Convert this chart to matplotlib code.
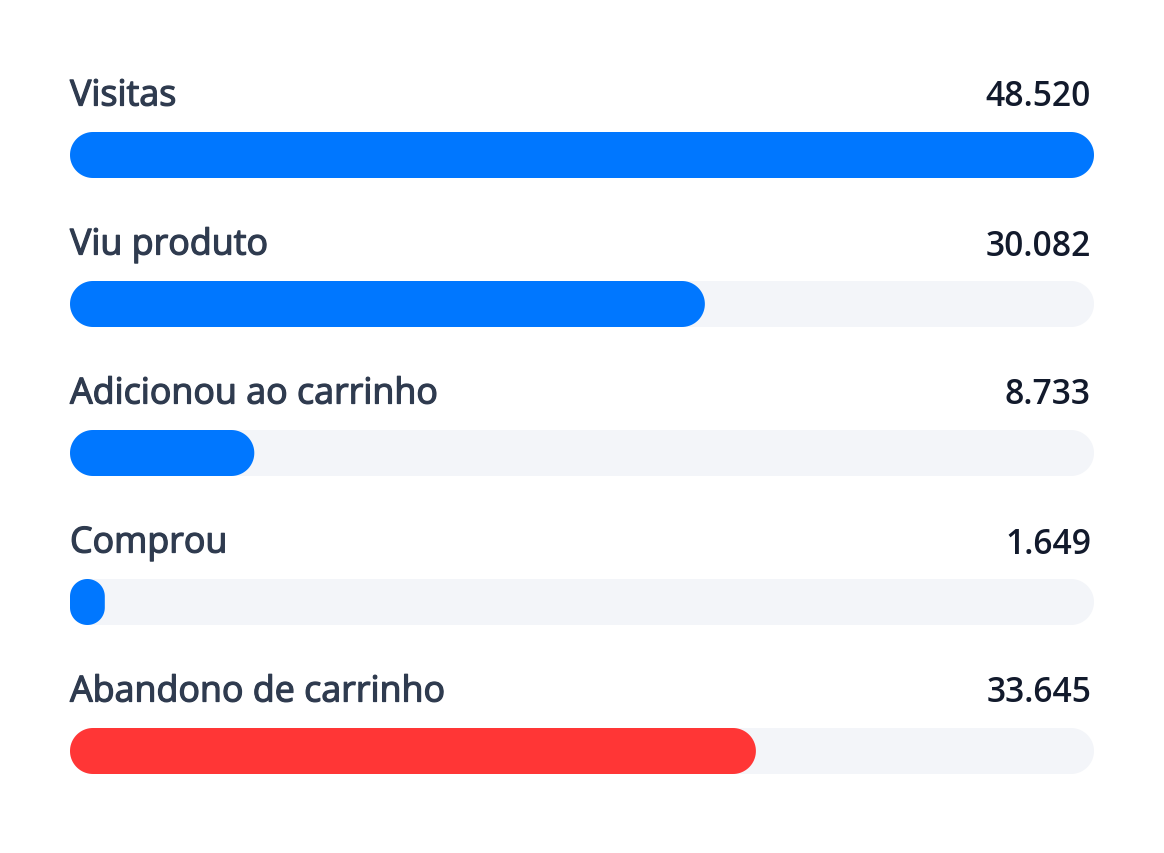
import numpy as np
import matplotlib
matplotlib.use("Agg")
from matplotlib import pyplot as plt
from matplotlib.patches import Polygon
from matplotlib import patheffects as pe

labels = ["Visitas", "Viu produto", "Adicionou ao carrinho", "Comprou", "Abandono de carrinho"]
shown_values = ["48.520", "30.082", "8.733", "1.649", "33.645"]
bar_values = [48520, 30082, 8733, 1649, 32500]
bar_colors = ["#0077FF", "#0077FF", "#0077FF", "#0077FF", "#FF3636"]

track_color = "#F3F5F9"
label_color = "#2F3B4F"
value_color = "#121A2C"
max_value = 48520

W, H = 1164, 854
fig = plt.figure(figsize=(W / 100, H / 100), dpi=100)
# axes spans the bar area horizontally, rows are 149 px apart
left_px, right_px = 70, 1094
row_px, first_px, bar_px = 149, 156, 46
ax = fig.add_axes([left_px / W, 0, (right_px - left_px) / W, 1])
ax.set_xlim(0, max_value)
ax.set_ylim((H - first_px) / row_px, -first_px / row_px)
ax.axis("off")

sx = max_value / (right_px - left_px)   # data per px in x
sy = 1 / row_px                          # data per px in y
bh = bar_px / row_px


def pill(x0, width, yc, color):
    # rounded rectangle, corner radius in px, converted to data units per axis
    r = min(bar_px / 2, width / sx / 2)
    rx, ry = r * sx, r * sy
    t = np.linspace(0, np.pi / 2, 20)
    x1 = x0 + width
    ytop, ybot = yc - bh / 2, yc + bh / 2
    pts = []
    pts += list(zip(x1 - rx + rx * np.sin(t), ytop + ry - ry * np.cos(t)))
    pts += list(zip(x1 - rx + rx * np.cos(t), ybot - ry + ry * np.sin(t)))
    pts += list(zip(x0 + rx - rx * np.sin(t), ybot - ry + ry * np.cos(t)))
    pts += list(zip(x0 + rx - rx * np.cos(t), ytop + ry - ry * np.sin(t)))
    ax.add_patch(Polygon(pts, closed=True, linewidth=0, facecolor=color))


for i, (lab, sv, v, c) in enumerate(zip(labels, shown_values, bar_values, bar_colors)):
    pill(0, max_value, i, track_color)
    pill(0, v, i, c)
    ty = i - 49.5 / row_px
    ax.text(0, ty, lab, ha="left", va="baseline", fontsize=25.8, color=label_color,
            family="Open Sans", fontweight="normal",
            path_effects=[pe.withStroke(linewidth=0.9, foreground=label_color)])
    ax.text(max_value - 3 * sx, ty, sv, ha="right", va="baseline", fontsize=24.2,
            color=value_color, family="Open Sans", fontweight="semibold")

fig.savefig("out.png", dpi=100, facecolor="white")
